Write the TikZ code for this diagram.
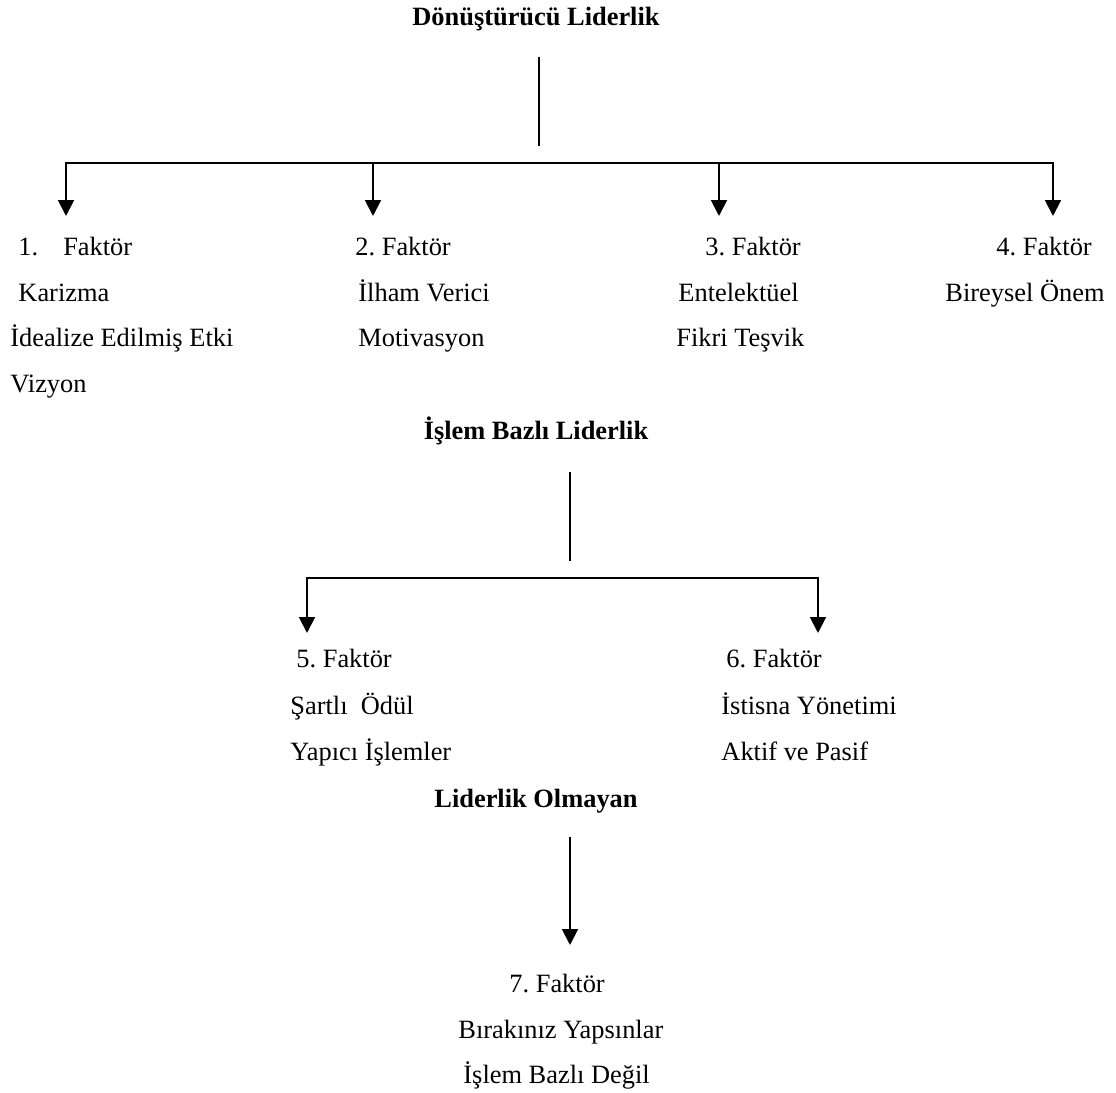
\documentclass[tikz,border=0pt]{standalone}
\usepackage{fontspec}
\setmainfont{Liberation Serif}
\usetikzlibrary{arrows.meta}
\frenchspacing
\begin{document}
\begin{tikzpicture}[x=0.4545pt,y=-0.4545pt,
    lbl/.style={anchor=base west,inner sep=0pt,font=\fontsize{12}{14}\selectfont},
    head/.style={anchor=base,inner sep=0pt,font=\fontsize{12}{14}\selectfont\bfseries},
    link/.style={line width=0.9pt,line cap=rect},
    arr/.style={link,-{Triangle[width=7.2pt,length=7.2pt]}}]

    \useasboundingbox (0,0) rectangle (1116,1093);

    % Headings
    \node[head] (dl) at (536,26) {Dönüştürücü Liderlik};
    \node[head] (ib) at (536,440) {İşlem Bazlı Liderlik};
    \node[head] (lo) at (536,807) {Liderlik Olmayan};

    % Line ends
    \coordinate (dl0) at (539,58);  \coordinate (dl1) at (539,145);
    \coordinate (b1) at (66,163);   \coordinate (b2) at (373,163);
    \coordinate (b3) at (719,163);  \coordinate (b4) at (1053,163);
    \coordinate (p1) at (66,216);   \coordinate (p2) at (373,216);
    \coordinate (p3) at (719,216);  \coordinate (p4) at (1053,216);
    \coordinate (ib0) at (570,473); \coordinate (ib1) at (570,560);
    \coordinate (b5) at (307,578);  \coordinate (b6) at (818,578);
    \coordinate (p5) at (307,633);  \coordinate (p6) at (818,633);
    \coordinate (lo0) at (570,838); \coordinate (p7) at (570,945);

    % Transformational branches
    \draw[link] (dl0) -- (dl1);
    \draw[link] (b1) -- (b4);
    \foreach \i in {1,...,4} \draw[arr] (b\i) -- (p\i);

    % Transactional branches
    \draw[link] (ib0) -- (ib1);
    \draw[link] (b5) -- (b6);
    \foreach \i in {5,6} \draw[arr] (b\i) -- (p\i);

    % Non-leadership
    \draw[arr] (lo0) -- (p7);

    % Factors
    \node[lbl] (f1) at (18,256) {1.\hspace{0.95em}Faktör};
    \node[lbl] (f1a) at (18,302) {Karizma};
    \node[lbl] (f1b) at (10,347) {İdealize Edilmiş Etki};
    \node[lbl] (f1c) at (10,393) {Vizyon};

    \node[lbl] (f2) at (355,256) {2. Faktör};
    \node[lbl] (f2a) at (358,302) {İlham Verici};
    \node[lbl] (f2b) at (358,347) {Motivasyon};

    \node[lbl] (f3) at (705,256) {3. Faktör};
    \node[lbl] (f3a) at (678,302) {Entelektüel};
    \node[lbl] (f3b) at (676,347) {Fikri Teşvik};

    \node[lbl] (f4) at (996,256) {4. Faktör};
    \node[lbl] (f4a) at (945,302) {Bireysel Önem};

    \node[lbl] (f5) at (296,668) {5. Faktör};
    \node[lbl] (f5a) at (290,715) {Şartlı\ \ Ödül};
    \node[lbl] (f5b) at (290,761) {Yapıcı İşlemler};

    \node[lbl] (f6) at (726,668) {6. Faktör};
    \node[lbl] (f6a) at (721,715) {İstisna Yönetimi};
    \node[lbl] (f6b) at (721,761) {Aktif ve Pasif};

    \node[lbl] (f7) at (509,992) {7. Faktör};
    \node[lbl] (f7a) at (458,1038) {Bırakınız Yapsınlar};
    \node[lbl] (f7b) at (463,1083) {İşlem Bazlı Değil};

\end{tikzpicture}
\end{document}
